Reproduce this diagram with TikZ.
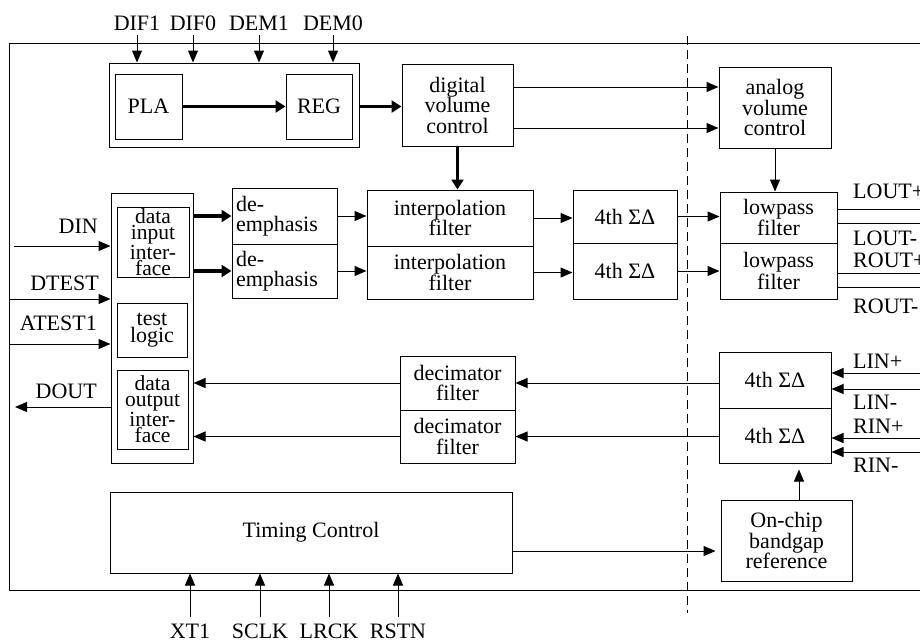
\documentclass[tikz,border=0pt]{standalone}
\usepackage{fontspec}
\setmainfont{Liberation Serif}
\usetikzlibrary{arrows.meta}

\begin{document}
\begin{tikzpicture}[x=1pt, y=-1pt,
    blk/.style={draw, line width=1pt, align=center, inner sep=0pt, font=\fontsize{22}{20.5}\selectfont},
    tight/.style={font=\fontsize{21.5}{16}\selectfont},
    lbl/.style={inner sep=0pt, font=\fontsize{22}{22}\selectfont},
    arr/.style={line width=1pt, -{Triangle[length=12pt, width=10pt]}},
    thk/.style={line width=3.5pt, -{Triangle[length=10pt, width=12pt]}}]
    \useasboundingbox (0,0) rectangle (920,641);

    % Chip outline and digital/analog border
    \draw[line width=1pt] (920,43) -- (9,43) -- (9,590) -- (920,590);
    \draw[line width=1pt, dash pattern=on 9pt off 5pt] (687,36) -- (687,613);

    % Control blocks
    \node[blk, minimum width=250pt, minimum height=84pt] (ctrl) at (234,105) {};
    \node[blk, minimum width=67pt, minimum height=65pt] (pla) at (148.5,106.5) {PLA};
    \node[blk, minimum width=66pt, minimum height=65pt] (reg) at (319,106.5) {REG};
    \node[blk, minimum width=111pt, minimum height=82pt] (dvc) at (457.5,105) {digital\\volume\\control};
    \node[blk, minimum width=112pt, minimum height=81pt] (avc) at (775,107.5) {analog\\volume\\control};

    % Interface column
    \node[blk, minimum width=82pt, minimum height=270pt] (iface) at (152,328) {};
    \node[blk, tight, minimum width=72pt, minimum height=70pt] (dinif) at (153,242) {data\\input\\inter-\\face};
    \node[blk, font=\fontsize{22}{17}\selectfont, minimum width=70pt, minimum height=54pt] (tlog) at (152,330) {test\\logic};
    \node[blk, tight, minimum width=71pt, minimum height=79pt] (doutif) at (152.5,409.5) {data\\output\\inter-\\face};

    % DAC path
    \node[blk, align=left, text width=97pt, inner xsep=4pt, minimum height=56pt] (demA) at (284.5,216) {de-\\emphasis};
    \node[blk, align=left, text width=97pt, inner xsep=4pt, minimum height=54pt] (demB) at (284.5,271) {de-\\emphasis};
    \node[blk, minimum width=166pt, minimum height=56pt] (intA) at (450,218) {interpolation\\filter};
    \node[blk, minimum width=166pt, minimum height=53pt] (intB) at (450,272.5) {interpolation\\filter};
    \node[blk, minimum width=104pt, minimum height=53pt] (sdA) at (625,216.5) {4th ΣΔ};
    \node[blk, minimum width=104pt, minimum height=56pt] (sdB) at (625,271) {4th ΣΔ};
    \node[blk, minimum width=117pt, minimum height=51pt] (lpA) at (778.5,217.5) {lowpass\\filter};
    \node[blk, font=\fontsize{22}{16}\selectfont, minimum width=117pt, minimum height=56pt] (lpB) at (778.5,271) {lowpass\\filter};

    % ADC path
    \node[blk, minimum width=115pt, minimum height=54pt] (decA) at (457.5,383) {decimator\\filter};
    \node[blk, minimum width=115pt, minimum height=53pt] (decB) at (457.5,436.5) {decimator\\filter};
    \node[blk, minimum width=112pt, minimum height=56pt] (adA) at (775,380) {4th ΣΔ};
    \node[blk, minimum width=112pt, minimum height=55pt] (adB) at (775,435.5) {4th ΣΔ};

    % Timing and reference
    \node[blk, minimum width=402pt, minimum height=81pt] (tim) at (311,532.5) {Timing Control};
    \node[blk, minimum width=131pt, minimum height=81pt] (bgr) at (786.5,540.5) {On-chip\\bandgap\\reference};

    % Pin labels
    \node[lbl, anchor=base] (ldif1) at (137,30) {DIF1};
    \node[lbl, anchor=base] (ldif0) at (193,30) {DIF0};
    \node[lbl, anchor=base] (ldem1) at (259,30) {DEM1};
    \node[lbl, anchor=base] (ldem0) at (333,30) {DEM0};
    \node[lbl, anchor=base] (lxt) at (190,638) {XT1};
    \node[lbl, anchor=base] (lsclk) at (260,638) {SCLK};
    \node[lbl, anchor=base] (llrck) at (329,638) {LRCK};
    \node[lbl, anchor=base] (lrstn) at (398,638) {RSTN};
    \node[lbl, anchor=base east] (ldin) at (98,233) {DIN};
    \node[lbl, anchor=base east] (ldtest) at (99,290) {DTEST};
    \node[lbl, anchor=base east] (latest) at (97,330) {ATEST1};
    \node[lbl, anchor=base east] (ldout) at (97,398) {DOUT};
    \node[lbl, anchor=base west] (loutp) at (853,198) {LOUT+};
    \node[lbl, anchor=base west] (loutm) at (853,245) {LOUT-};
    \node[lbl, anchor=base west] (routp) at (853,267) {ROUT+};
    \node[lbl, anchor=base west] (routm) at (853,313) {ROUT-};
    \node[lbl, anchor=base west] (linp) at (853,368) {LIN+};
    \node[lbl, anchor=base west] (linm) at (853,409) {LIN-};
    \node[lbl, anchor=base west] (rinp) at (853,433) {RIN+};
    \node[lbl, anchor=base west] (rinm) at (853,472) {RIN-};

    % Free pin ends
    \coordinate (pdin) at (14,246);
    \coordinate (pdtest) at (9,299);
    \coordinate (patest) at (9,344);
    \coordinate (pdout) at (15,407);

    % Pins in and out
    \foreach \n in {ldif1,ldif0,ldem1,ldem0}
        \draw[arr] ([yshift=-5pt]\n.south) -- (\n |- ctrl.north);
    \foreach \n in {lxt,lsclk,llrck,lrstn}
        \draw[arr] ([yshift=6pt]\n.north) -- (\n |- tim.south);
    \draw[arr] (pdin) -- (pdin -| iface.west);
    \draw[arr] (pdtest) -- (pdtest -| iface.west);
    \draw[arr] (patest) -- (patest -| iface.west);
    \draw[arr] (pdout -| iface.west) -- (pdout);
    \foreach \yy in {209,223,273,287}
        \draw[line width=1pt] (lpA.east |- 0,\yy) -- (920,\yy);
    \foreach \yy in {373,389,438,452}
        \draw[arr] (920,\yy) -- (adA.east |- 0,\yy);

    % Control flow
    \draw[thk] (pla) -- (reg);
    \draw[thk] (reg.east -| ctrl.east) -- (reg.east -| dvc.west);
    \draw[thk] (dvc) -- (dvc |- intA.north);
    \draw[arr] (dvc.east |- 0,87) -- (avc.west |- 0,87);
    \draw[arr] (dvc.east |- 0,128) -- (avc.west |- 0,128);
    \draw[arr] (avc) -- (avc |- lpA.north);

    % DAC data flow
    \draw[thk] (demA.west -| iface.east) -- (demA.west);
    \draw[thk] (demB.west -| iface.east) -- (demB.west);
    \draw[arr] (demA.east) -- (demA.east -| intA.west);
    \draw[arr] (demB.east) -- (demB.east -| intB.west);
    \draw[arr] (intA.east) -- (intA.east -| sdA.west);
    \draw[arr] (intB.east) -- (intB.east -| sdB.west);
    \draw[arr] (sdA.east) -- (sdA.east -| lpA.west);
    \draw[arr] (sdB.east) -- (sdB.east -| lpB.west);

    % ADC data flow
    \draw[arr] (decA.east -| adA.west) -- (decA.east);
    \draw[arr] (decB.east -| adB.west) -- (decB.east);
    \draw[arr] (decA.west) -- (decA.west -| iface.east);
    \draw[arr] (decB.west) -- (decB.west -| iface.east);

    % Reference and timing
    \coordinate (bgtop) at ([xshift=12.5pt]bgr.north);
    \draw[arr, shorten >=6pt] (bgtop) -- (bgtop |- adB.south);
    \draw[arr, shorten >=5pt] (tim.east |- 0,551) -- (bgr.west |- 0,551);
\end{tikzpicture}
\end{document}
